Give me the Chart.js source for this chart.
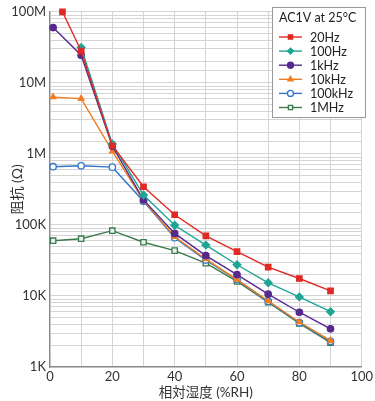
<!DOCTYPE html>
<html lang="ja">
<head>
<meta charset="UTF-8">
<title>阻抗 vs 相対湿度</title>
<script src="https://cdn.jsdelivr.net/npm/chart.js"></script>
<style>
    html, body { margin: 0; padding: 0; background: #fff; }
    #wrap { width: 375px; height: 401px; }
</style>
</head>
<body>
<div id="wrap"><canvas id="myChart" width="375" height="401"></canvas></div>
<script>
// data
var rhStart1 = [1, 10, 20, 30, 40, 50, 60, 70, 80, 90];
var rhRed = [4, 10, 20, 30, 40, 50, 60, 70, 80, 90];
var rhTeal = [10, 20, 30, 40, 50, 60, 70, 80, 90];

var labels = ['20Hz', '100Hz', '1kHz', '10kHz', '100kHz', '1MHz'];
var z20Hz = [1.0e8, 2.8e7, 1.3e6, 3.45e5, 1.39e5, 7.0e4, 4.2e4, 2.55e4, 1.76e4, 1.18e4];
var z100Hz = [3.15e7, 1.38e6, 2.63e5, 9.9e4, 5.2e4, 2.75e4, 1.53e4, 9.7e3, 6.0e3];
var z1kHz = [6.0e7, 2.45e7, 1.28e6, 2.25e5, 7.6e4, 3.7e4, 2.0e4, 1.06e4, 5.9e3, 3.45e3];
var z10kHz = [6.3e6, 6.0e6, 1.09e6, 2.2e5, 6.8e4, 3.3e4, 1.7e4, 8.5e3, 4.3e3, 2.35e3];
var z100kHz = [6.6e5, 6.8e5, 6.5e5, 2.15e5, 6.6e4, 3.2e4, 1.7e4, 8.4e3, 4.2e3, 2.3e3];
var z1MHz = [6.0e4, 6.4e4, 8.3e4, 5.7e4, 4.35e4, 2.9e4, 1.6e4, 8.2e3, 4.1e3, 2.2e3];

var yTickLabels = { 1e3: '1K', 1e4: '10K', 1e5: '100K', 1e6: '1M', 1e7: '10M', 1e8: '100M' };

function pts(xs, ys) {
    return ys.map(function (v, i) { return { x: xs[i], y: v }; });
}

function series(label, xs, ys, color, style, fill) {
    return {
        label: label,
        data: pts(xs, ys),
        borderColor: color,
        backgroundColor: fill || color,
        pointStyle: style,
        pointBorderColor: color,
        pointBackgroundColor: fill || color,
        pointRadius: style === 'rectRot' || style === 'rect' ? 3.8 : 3.2,
        pointBorderWidth: 1.3,
        borderWidth: 1.4,
        clip: false
    };
}

var font = '"Lato", "Noto Sans CJK JP", sans-serif';

// legend box drawn in the top right corner of the plot
var legendBox = {
    id: 'legendBox',
    afterDraw: function (chart) {
        var ctx = chart.ctx;
        var x0 = 272, y0 = 7, w = 94, h = 110;
        ctx.save();
        ctx.fillStyle = '#fff';
        ctx.fillRect(x0, y0, w, h);
        ctx.strokeStyle = '#9a9a9a';
        ctx.lineWidth = 1;
        ctx.strokeRect(x0 + 0.5, y0 + 0.5, w - 1, h);
        ctx.fillStyle = '#222';
        ctx.font = '12.5px ' + font;
        ctx.textBaseline = 'middle';
        ctx.textAlign = 'left';
        ctx.fillText('AC1V at 25°C', 279, 18);
        chart.data.datasets.forEach(function (ds, i) {
            var y = 37 + i * 14.1;
            ctx.strokeStyle = ds.borderColor;
            ctx.lineWidth = 1.4;
            ctx.beginPath();
            ctx.moveTo(279, y);
            ctx.lineTo(302, y);
            ctx.stroke();
            ctx.fillStyle = ds.pointBackgroundColor;
            ctx.lineWidth = 1.3;
            Chart.helpers.drawPoint(ctx, { pointStyle: ds.pointStyle, radius: 3, borderWidth: 1.3 }, 290.5, y);
            ctx.fillStyle = '#222';
            ctx.fillText(ds.label, 310, y + 0.5);
        });
        ctx.restore();
    }
};

var ctx = document.getElementById('myChart').getContext('2d');
var myChart = new Chart(ctx, {
    type: 'line',
    data: {
        datasets: [
            series(labels[0], rhRed, z20Hz, '#e02a25', 'rect'),
            series(labels[1], rhTeal, z100Hz, '#1ea593', 'rectRot'),
            series(labels[2], rhStart1, z1kHz, '#56298e', 'circle'),
            series(labels[3], rhStart1, z10kHz, '#f07c1e', 'triangle'),
            series(labels[4], rhStart1, z100kHz, '#2f76c8', 'circle', '#ffffff'),
            series(labels[5], rhStart1, z1MHz, '#3b7a4c', 'rect', '#e8f2ea')
        ]
    },
    options: {
        responsive: false,
        animation: false,
        layout: { padding: { top: 7, right: 10, left: 0, bottom: 0 } },
        plugins: {
            legend: { display: false },
            tooltip: { enabled: false }
        },
        scales: {
            x: {
                type: 'linear',
                min: 0,
                max: 100,
                ticks: {
                    stepSize: 10,
                    autoSkip: false,
                    maxRotation: 0,
                    padding: 2,
                    color: '#333',
                    font: { family: font, size: 13 },
                    callback: function (v) { return v % 20 === 0 ? String(v) : ''; }
                },
                grid: { color: '#d4d4d4', drawTicks: false, lineWidth: 1 },
                border: { color: '#8a8a8a', width: 1.2 },
                title: {
                    display: true,
                    text: '相対湿度 (%RH)',
                    color: '#333',
                    padding: { top: 0, bottom: 0 },
                    font: { family: font, size: 13.5 }
                },
                afterFit: function (s) { s.height = 34; }
            },
            y: {
                type: 'logarithmic',
                min: 1e3,
                max: 1e8,
                ticks: {
                    autoSkip: false,
                    padding: 4,
                    color: '#333',
                    font: { family: font, size: 13 },
                    callback: function (v) { return yTickLabels[v] || ''; }
                },
                grid: { color: '#d4d4d4', drawTicks: false, lineWidth: 1 },
                border: { color: '#8a8a8a', width: 1.2 },
                title: {
                    display: true,
                    text: '阻抗 (Ω)',
                    color: '#333',
                    padding: { top: 9, bottom: 0 },
                    font: { family: font, size: 14 }
                },
                afterFit: function (s) { s.width = 50; }
            }
        }
    },
    plugins: [legendBox]
});
</script>
</body>
</html>
